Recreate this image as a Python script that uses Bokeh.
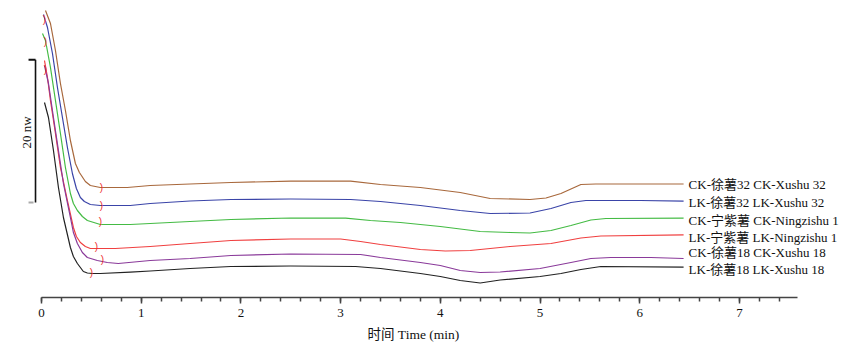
from bokeh.plotting import figure
from bokeh.models import Range1d, FixedTicker, Title
from bokeh.core.properties import value
from bokeh.embed import file_html
from bokeh.resources import INLINE

# ---- data (time in min, heat flow in nW, arbitrary offset) ----
t_ck_xs32 = [0.04, 0.09, 0.14, 0.19, 0.24, 0.29, 0.34, 0.38, 0.44, 0.49, 0.59, 0.86, 1.09, 1.49, 1.90, 2.50, 3.10, 3.40, 3.80, 4.20, 4.50, 4.90, 5.06, 5.21, 5.41, 5.56, 6.44]
v_ck_xs32 = [40.6, 38.78, 35.0, 30.38, 26.6, 22.4, 19.18, 17.92, 16.66, 16.1, 15.82, 15.82, 16.1, 16.31, 16.52, 16.70, 16.70, 16.24, 15.82, 15.12, 14.28, 14.14, 14.35, 14.98, 16.24, 16.31, 16.31]

t_lk_xs32 = [0.02, 0.06, 0.11, 0.16, 0.21, 0.26, 0.31, 0.35, 0.39, 0.43, 0.49, 0.59, 0.89, 1.09, 1.49, 1.90, 2.50, 3.10, 3.40, 3.80, 4.20, 4.50, 4.90, 5.11, 5.31, 5.46, 6.01, 6.44]
v_lk_xs32 = [40.04, 38.22, 34.58, 29.82, 25.62, 21.42, 17.78, 15.68, 14.42, 13.86, 13.44, 13.3, 13.3, 13.58, 13.93, 14.14, 14.21, 14.14, 13.86, 13.3, 12.6, 12.18, 12.25, 12.88, 13.72, 14.0, 14.0, 13.9]

t_ck_nz1 = [0.01, 0.04, 0.09, 0.14, 0.19, 0.24, 0.29, 0.32, 0.36, 0.41, 0.46, 0.59, 0.89, 1.09, 1.49, 1.90, 2.50, 3.05, 3.30, 3.60, 4.00, 4.40, 4.70, 4.90, 5.11, 5.31, 5.51, 5.66, 6.44]
v_ck_nz1 = [37.38, 36.4, 32.62, 28.0, 23.38, 18.62, 14.98, 13.58, 12.6, 11.76, 11.2, 10.64, 10.64, 10.78, 11.06, 11.34, 11.55, 11.52, 11.2, 10.92, 10.36, 9.66, 9.52, 9.45, 9.8, 10.5, 11.27, 11.48, 11.52]

t_lk_nz1 = [0.03, 0.06, 0.09, 0.14, 0.19, 0.26, 0.32, 0.35, 0.39, 0.44, 0.49, 0.74, 1.09, 1.49, 1.90, 2.50, 3.00, 3.20, 3.40, 3.80, 4.05, 4.30, 4.70, 5.11, 5.41, 5.61, 6.44]
v_lk_nz1 = [33.6, 31.22, 28.0, 23.38, 18.62, 14.0, 10.22, 8.96, 8.12, 7.56, 7.28, 7.28, 7.56, 7.98, 8.4, 8.61, 8.61, 8.26, 7.84, 7.14, 6.93, 7.0, 7.56, 7.98, 8.75, 9.03, 9.2]

t_ck_xs18 = [0.03, 0.07, 0.12, 0.17, 0.22, 0.29, 0.32, 0.36, 0.41, 0.46, 0.56, 0.66, 0.77, 1.09, 1.49, 1.90, 2.50, 3.20, 3.40, 3.80, 4.00, 4.20, 4.40, 4.60, 5.00, 5.31, 5.51, 5.71, 6.11, 6.44]
v_ck_xs18 = [32.9, 30.38, 25.62, 21.0, 16.38, 11.62, 9.52, 7.98, 6.72, 6.02, 5.6, 5.32, 5.18, 5.6, 5.88, 6.3, 6.51, 6.44, 6.02, 5.32, 4.9, 4.2, 3.92, 3.99, 4.48, 5.32, 5.88, 6.02, 6.02, 5.88]

t_lk_xs18 = [0.03, 0.07, 0.12, 0.17, 0.22, 0.29, 0.32, 0.36, 0.42, 0.46, 0.51, 0.59, 0.89, 1.09, 1.49, 1.90, 2.50, 3.15, 3.40, 3.80, 4.00, 4.20, 4.40, 4.60, 5.00, 5.21, 5.41, 5.61, 6.44]
v_lk_xs18 = [27.72, 25.62, 21.0, 15.82, 11.62, 7.42, 6.16, 5.18, 4.06, 3.85, 3.78, 3.78, 3.98, 4.13, 4.48, 4.76, 4.83, 4.76, 4.48, 3.78, 3.36, 2.8, 2.45, 2.87, 3.36, 3.78, 4.34, 4.76, 4.66]

series_labels = ["CK-徐薯32 CK-Xushu 32", "LK-徐薯32 LK-Xushu 32", "CK-宁紫薯 CK-Ningzishu 1",
                 "LK-宁紫薯 LK-Ningzishu 1", "CK-徐薯18 CK-Xushu 18", "LK-徐薯18 LK-Xushu 18"]
label_v = [16.24, 13.79, 11.27, 8.89, 6.72, 4.34]
label_t = 6.49
series_colors = ["#a8683c", "#3a44a8", "#44bb44", "#f04040", "#8a3a9a", "#222222"]
series_t = [t_ck_xs32, t_lk_xs32, t_ck_nz1, t_lk_nz1, t_ck_xs18, t_lk_xs18]
series_v = [v_ck_xs32, v_lk_xs32, v_ck_nz1, v_lk_nz1, v_ck_xs18, v_lk_xs18]

# integration marks (red brackets)
mark_t = [0.60, 0.60, 0.59, 0.55, 0.61, 0.50, 0.03, 0.04, 0.04]
mark_v = [15.82, 13.3, 11.0, 7.56, 5.74, 3.92, 39.3, 36.3, 32.3]

# scale bar: 20 nW
scale_low = 13.72
scale_size = 20.0
scale_label = "20 nw"

x_major = [0, 1, 2, 3, 4, 5, 6, 7]
x_minor = [round(0.2 * i, 1) for i in range(0, 38)]
x_label = "时间 Time (min)"

SERIF = "Liberation Serif, Noto Sans CJK SC"

p = figure(width=849, height=353, output_backend="svg", toolbar_location=None,
           x_range=Range1d(-0.2106, 8.104), y_range=Range1d(0.42, 40.88),
           min_border_left=20, min_border_right=0, min_border_top=8, min_border_bottom=56)
p.outline_line_color = None
p.grid.visible = False
p.yaxis.visible = False
p.background_fill_color = "white"

for t, v, c in zip(series_t, series_v, series_colors):
    p.line(t, v, line_color=c, line_width=1.2, line_join="round")

p.text(x=[label_t] * len(series_labels), y=label_v, text=series_labels, text_font=value(SERIF),
       text_font_size="13px", text_baseline="middle", text_align="left", text_color="#111111")

p.text(x=mark_t, y=mark_v, text=[")"] * len(mark_t), text_color="#ee3030",
       text_font=value("Liberation Sans"), text_font_size="10px",
       text_align="center", text_baseline="middle")

# scale bar
xb = -0.06
p.segment(x0=[xb], y0=[scale_low], x1=[xb], y1=[scale_low + scale_size], line_color="#111111", line_width=1.6)
p.segment(x0=[xb - 0.07], y0=[scale_low + scale_size], x1=[xb], y1=[scale_low + scale_size], line_color="#111111", line_width=2)
p.segment(x0=[xb - 0.07], y0=[scale_low], x1=[xb - 0.02], y1=[scale_low], line_color="#aaaaaa", line_width=2)
p.text(x=[-0.15], y=[scale_low + scale_size * 0.49], text=[scale_label], angle=1.5708,
       text_font=value(SERIF), text_font_size="13px", text_align="center", text_baseline="middle",
       text_color="#111111")

ax = p.xaxis[0]
ax.bounds = (0, 7.58)
ax.ticker = FixedTicker(ticks=x_major, minor_ticks=x_minor)
ax.axis_line_color = "#444444"
ax.axis_line_width = 1.5
ax.major_tick_line_color = "#444444"
ax.minor_tick_line_color = "#444444"
ax.major_tick_line_width = 1.5
ax.minor_tick_line_width = 1.5
ax.major_tick_in = 0
ax.major_tick_out = 6
ax.minor_tick_in = 0
ax.minor_tick_out = 4
ax.major_label_text_font = SERIF
ax.major_label_text_font_size = "13px"
ax.major_label_text_color = "#111111"
ax.major_label_standoff = 5

# axis title, placed under the drawn axis span
p.add_layout(Title(text=x_label, align="left", offset=347, standoff=11,
                   text_font=SERIF, text_font_size="13.5px", text_font_style="normal",
                   text_color="#111111"), "below")

open("out.html", "w").write(file_html(p, INLINE))
